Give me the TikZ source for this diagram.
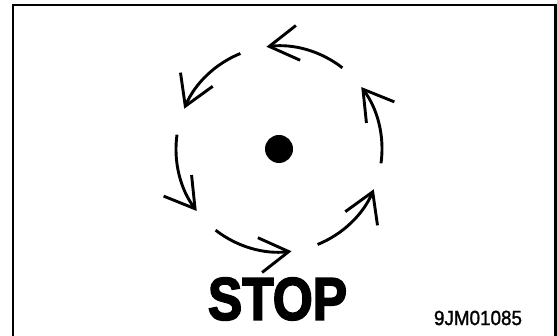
\documentclass[tikz,border=0pt]{standalone}
\usepackage{fontspec}
\setmainfont{Liberation Sans}
\newfontfamily\stopfont[FakeBold=3]{Liberation Sans Bold}
\newfontfamily\codefont[FakeBold=1.5]{Liberation Sans}
\usetikzlibrary{arrows.meta}
\tikzset{
  rotarrow/.style={line width=2.9pt, line cap=butt,
    -{Straight Barb[length=29pt,width=35pt,line width=2.9pt]}},
  frameline/.style={line width=2.7pt, line join=miter}
}
\begin{document}
\begin{tikzpicture}[x=1pt,y=1pt]
\useasboundingbox (0,0) rectangle (557,336);
\coordinate (C) at (279,187);
% frame
\coordinate (fbl) at (13,-3);
\coordinate (ftl) at (13,331);
\coordinate (ftr) at (555.5,331);
\coordinate (fbr) at (555.5,-3);
\draw[frameline] (fbl) -- (ftl) -- (ftr) -- (fbr);
% centre dot
\fill (C) circle[radius=14];
% rotation arrows
\foreach \a in {52,112,172,232,292,352}{
  \draw[rotarrow] (C) ++(\a:103) arc[start angle=\a, delta angle=45, radius=103];
}
% texts
\node[inner sep=0pt] (stop) at (277.5,37) {\resizebox{139pt}{42pt}{\stopfont STOP}};
\node[inner sep=0pt] (code) at (478,18) {\resizebox{88pt}{14.3pt}{\codefont 9JM01085}};
\end{tikzpicture}
\end{document}
